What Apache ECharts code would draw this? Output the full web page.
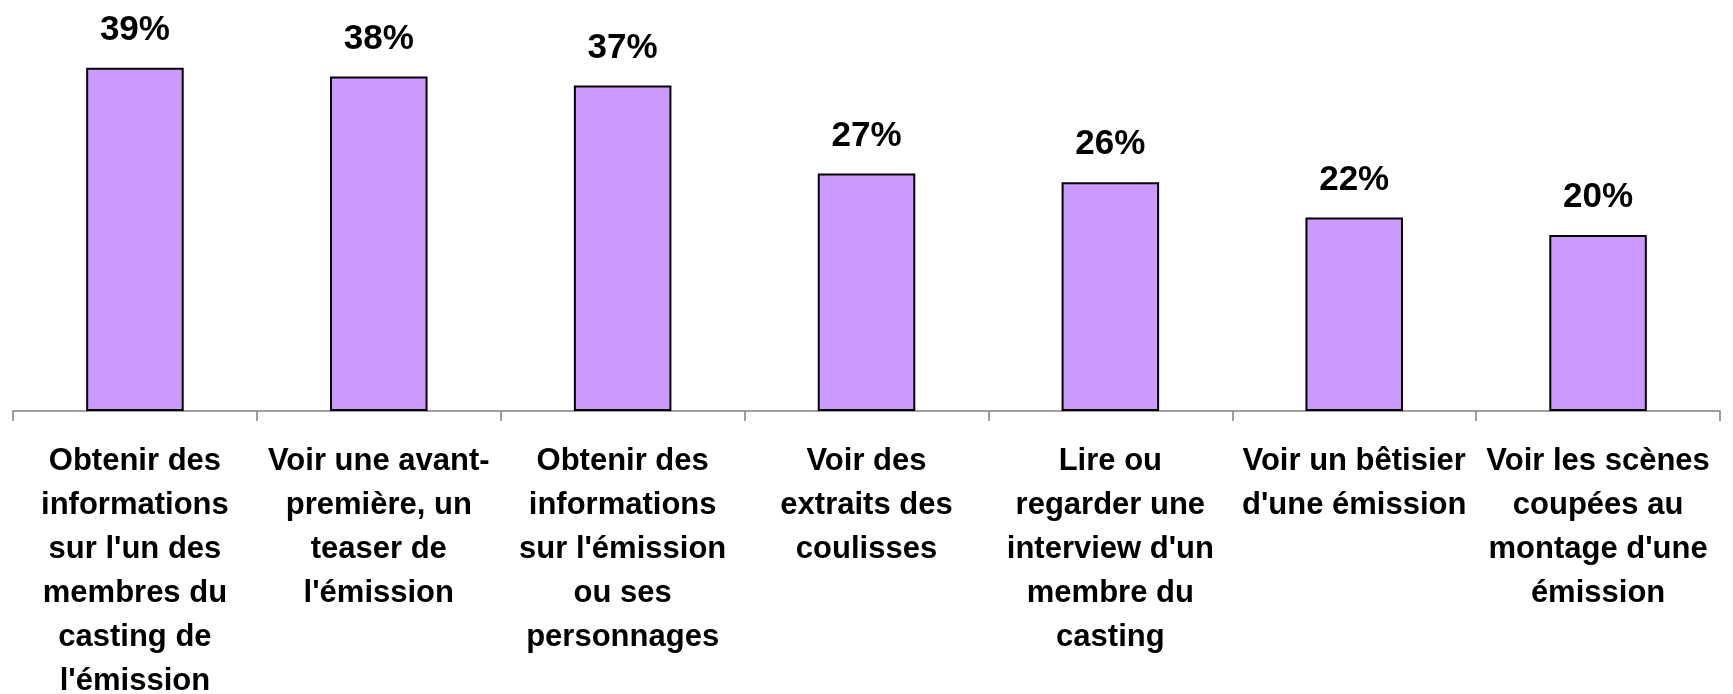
<!DOCTYPE html>
<html>
<head>
<meta charset="utf-8">
<script src="https://cdn.jsdelivr.net/npm/echarts@6/dist/echarts.min.js"></script>
<style>html,body{margin:0;padding:0;background:#fff;}#c{width:1733px;height:694px;}</style>
</head>
<body>
<div id="c"></div>
<script>
const categories = [
  "Obtenir des\ninformations\nsur l'un des\nmembres du\ncasting de\nl'émission",
  "Voir une avant-\npremière, un\nteaser de\nl'émission",
  "Obtenir des\ninformations\nsur l'émission\nou ses\npersonnages",
  "Voir des\nextraits des\ncoulisses",
  "Lire ou\nregarder une\ninterview d'un\nmembre du\ncasting",
  "Voir un bêtisier\nd'une émission",
  "Voir les scènes\ncoupées au\nmontage d'une\némission"
];
const values = [39, 38, 37, 27, 26, 22, 20];

const chart = echarts.init(document.getElementById('c'), null, {renderer: 'canvas'});
chart.setOption({
  animation: false,
  grid: {left: 13, right: 13, top: 15, bottom: 283, containLabel: false, outerBoundsMode: 'none'},
  xAxis: {
    type: 'category',
    data: categories,
    boundaryGap: true,
    axisLine: {lineStyle: {color: '#808080', width: 1.5}},
    axisTick: {show: true, length: 10, alignWithLabel: false, lineStyle: {color: '#808080', width: 1.5}},
    axisLabel: {
      interval: 0,
      margin: 28,
      fontFamily: 'Liberation Sans, Arial, sans-serif',
      fontWeight: 'bold',
      fontSize: 31,
      lineHeight: 44,
      color: '#000',
      align: 'center'
    }
  },
  yAxis: {
    type: 'value',
    min: 0,
    max: 45,
    show: false,
    splitLine: {show: false}
  },
  series: [{
    type: 'bar',
    data: values,
    barWidth: '40%',
    itemStyle: {color: '#CC99FF', borderColor: '#000', borderWidth: 2},
    label: {
      show: true,
      position: 'top',
      distance: 20,
      formatter: '{c}%',
      fontFamily: 'Liberation Sans, Arial, sans-serif',
      fontWeight: 'bold',
      fontSize: 35,
      color: '#000'
    }
  }]
});
</script>
</body>
</html>
